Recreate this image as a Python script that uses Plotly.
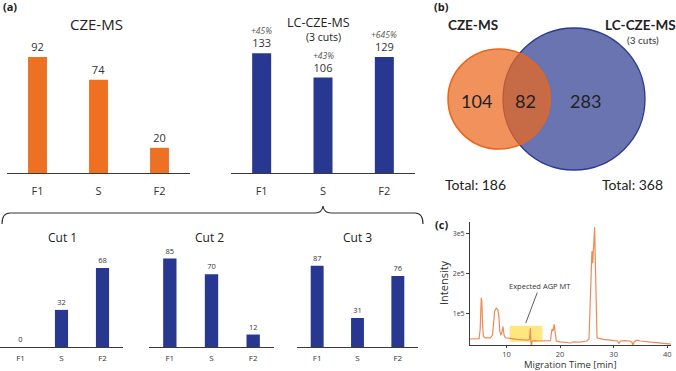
import plotly.graph_objects as go

W, H = 676, 371
FONT = "Open Sans"
VFONT = "Lato"

# ---------------- data ----------------
categories = ["F1", "S", "F2"]
cze_ms = [92, 74, 20]
lc_cze_ms = [133, 106, 129]
lc_increase = ["+45%", "+43%", "+645%"]
cut_titles = ["Cut 1", "Cut 2", "Cut 3"]
cut1 = [0, 32, 68]
cut2 = [85, 70, 12]
cut3 = [87, 31, 76]

venn_labels = ["CZE-MS", "LC-CZE-MS"]
venn_only_cze = 104
venn_shared = 82
venn_only_lc = 283
venn_totals = [186, 368]

mig_time = [3.2, 4.9, 5.1, 5.3, 5.4, 5.55, 5.7, 6.0, 7.0, 7.4, 7.6, 7.8, 8.1, 8.4, 8.6,
            8.75, 8.95, 9.1, 9.35, 9.55, 9.8, 10.2, 11, 12, 13, 14, 14.3, 14.45, 14.55,
            14.65, 14.8, 15.2, 16, 17, 18.2, 18.5, 18.7, 18.9, 19.1, 19.3, 20, 21, 22, 22.4,
            23, 24, 25, 25.4, 25.6, 25.8, 25.95, 26.1, 26.3, 26.45, 26.6, 26.75, 26.9, 27.5,
            28, 29, 30, 30.7, 31, 31.3, 32, 33, 33.4, 33.6, 33.8, 34.3, 35, 36, 37, 38, 39,
            40, 40.7]
intensity = [0.35, 0.36, 0.6, 1.38, 1.3, 0.7, 0.42, 0.38, 0.38, 0.45, 0.85, 1.05, 1.12, 1.08, 0.9,
             0.55, 0.45, 0.5, 0.66, 0.45, 0.38, 0.37, 0.35, 0.34, 0.33, 0.32, 0.34, 0.62, 0.3,
             0.17, 0.3, 0.31, 0.3, 0.3, 0.31, 0.6, 0.55, 0.72, 0.45, 0.3, 0.28, 0.27, 0.25, 0.28,
             0.27, 0.28, 0.3, 0.35, 1.2, 2.4, 2.55, 2.25, 2.9, 3.15, 2.2, 0.6, 0.38, 0.36,
             0.34, 0.33, 0.32, 0.3, 0.24, 0.3, 0.31, 0.3, 0.27, 0.2, 0.27, 0.32, 0.3, 0.28, 0.27,
             0.26, 0.25, 0.23, 0.22]
intensity = [v * 1e5 for v in intensity]
y_tickvals = [1e5, 2e5, 3e5]
y_ticktext = ["1e5", "2e5", "3e5"]
x_tickvals = [10, 20, 30, 40]

ORANGE = "#EE7023"
BLUE = "#283891"
DARK = "#3a3a3a"


def fx(px):
    return px / W


def fy(py):
    return 1 - py / H


fig = go.Figure()

# bar panels: (axis suffix, values, colour, x px domain, y px domain, px per unit, bar width, text size, tick size, standoff)
panels = [
    ("", cze_ms, ORANGE, (7, 190), (20, 173), 1.26, 0.31, 11, 11, 8),
    ("2", lc_cze_ms, BLUE, (231, 415), (20, 173), 0.90, 0.31, 11, 11, 8),
    ("3", cut1, BLUE, (0, 123), (245, 347), 1.16, 0.32, 7.5, 8, 3),
    ("4", cut2, BLUE, (149, 274), (245, 347), 1.04, 0.32, 7.5, 8, 3),
    ("5", cut3, BLUE, (297, 418), (245, 347), 0.935, 0.32, 7.5, 8, 3),
]

layout_axes = {}
for suf, vals, col, xd, yd, scale, bw, tsize, ksize, stand in panels:
    fig.add_trace(go.Bar(
        x=categories, y=vals, marker=dict(color=col, line=dict(width=0)),
        width=bw, text=[str(v) for v in vals], textposition="outside",
        textfont=dict(size=tsize, color="#333333", family=FONT), cliponaxis=False,
        xaxis="x" + suf, yaxis="y" + suf, showlegend=False, hoverinfo="skip"))
    layout_axes["xaxis" + suf] = dict(
        domain=[fx(xd[0]), fx(xd[1])], anchor="y" + suf, type="category",
        range=[-0.5, 2.5], showline=True, linecolor=DARK, linewidth=1,
        showgrid=False, zeroline=False, ticks="", ticklabelstandoff=stand,
        tickfont=dict(size=ksize, color="#333333", family=FONT), fixedrange=True)
    layout_axes["yaxis" + suf] = dict(
        domain=[fy(yd[1]), fy(yd[0])], anchor="x" + suf,
        range=[0, (yd[1] - yd[0]) / scale], visible=False, fixedrange=True)

# electropherogram
fig.add_trace(go.Scatter(
    x=mig_time, y=intensity, mode="lines", line=dict(color="#EF8A55", width=1.2),
    xaxis="x6", yaxis="y6", showlegend=False, hoverinfo="skip"))
layout_axes["xaxis6"] = dict(
    domain=[fx(470), fx(671)], anchor="y6", range=[3.2, 40.7],
    tickvals=x_tickvals, ticks="outside", ticklen=1.5, tickcolor=DARK,
    showline=True, linecolor=DARK, linewidth=1, showgrid=False, zeroline=False,
    tickfont=dict(size=7.5, color="#444444", family=FONT), fixedrange=True)
layout_axes["yaxis6"] = dict(
    domain=[fy(345), fy(222)], anchor="x6", range=[0.2e5, 3.28e5],
    tickvals=y_tickvals, ticktext=y_ticktext, ticks="outside", ticklen=3, tickcolor=DARK,
    showline=True, linecolor=DARK, linewidth=1, showgrid=False, zeroline=False,
    tickfont=dict(size=7, color="#444444", family=FONT), fixedrange=True)

annotations = []


def txt(x, y, s, size, color="#222222", bold=False, xanchor="center", textangle=0, family=FONT):
    if bold:
        s = "<b>" + s + "</b>"
    annotations.append(dict(x=fx(x), y=fy(y), xref="paper", yref="paper", text=s,
                            showarrow=False, xanchor=xanchor, yanchor="middle",
                            font=dict(size=size, color=color, family=family),
                            textangle=textangle))


# panel labels
txt(1, 7, "(a)", 11, bold=True, xanchor="left")
txt(432, 7, "(b)", 11, bold=True, xanchor="left")
txt(433, 224, "(c)", 11, bold=True, xanchor="left")

# bar titles
txt(96, 24, "CZE-MS", 15)
txt(318, 22, "LC-CZE-MS", 12.5)
txt(323, 37, "(3 cuts)", 10.5)
for i, t in enumerate(cut_titles):
    txt([62, 209, 357][i], 237, t, 12)

# percentage increases above LC-CZE-MS bars
for c, v, p in zip(categories, lc_cze_ms, lc_increase):
    annotations.append(dict(x=c, y=v, xref="x2", yref="y2", text="<i>" + p + "</i>",
                            showarrow=False, yanchor="bottom", yshift=15,
                            font=dict(size=8.5, color="#555555", family=FONT)))

# Venn
txt(473, 25, venn_labels[0], 13.5, bold=True, family=VFONT)
txt(640, 25, venn_labels[1], 13.5, bold=True, family=VFONT)
txt(643, 40, "(3 cuts)", 10, color="#333333", family=VFONT)
txt(476, 101, str(venn_only_cze), 18, family=VFONT)
txt(525, 101, str(venn_shared), 18, family=VFONT)
txt(585, 101, str(venn_only_lc), 18, family=VFONT)
txt(475, 185, "Total: " + str(venn_totals[0]), 14, family=VFONT)
txt(632, 185, "Total: " + str(venn_totals[1]), 14, family=VFONT)

# electropherogram texts
txt(443, 283, "Intensity", 11, color="#333333", textangle=-90)
txt(570, 364.5, "Migration Time [min]", 9.5, color="#333333")
annotations.append(dict(x=13.6, y=0.75e5, xref="x6", yref="y6", text="Expected AGP MT",
                        showarrow=True, arrowhead=0, arrowwidth=0.8, arrowcolor="#333333",
                        ax=14, ay=-37, font=dict(size=7.5, color="#333333", family=FONT)))

shapes = []
# Venn circles
shapes.append(dict(type="circle", xref="paper", yref="paper",
                   x0=fx(503), x1=fx(645), y0=fy(170), y1=fy(28),
                   fillcolor="rgba(43,57,144,0.7)", line=dict(color="#2B3990", width=1.3)))
shapes.append(dict(type="circle", xref="paper", yref="paper",
                   x0=fx(448), x1=fx(550), y0=fy(149), y1=fy(49),
                   fillcolor="rgba(236,104,30,0.72)", line=dict(color="#E8651A", width=1.5)))

# brace
pts = [("M", (2, 224)), ("Q", (2, 213), (10, 213)), ("L", (315, 213)),
       ("Q", (322, 213), (323, 206)), ("Q", (324, 213), (331, 213)), ("L", (415, 213)),
       ("Q", (423, 213), (423, 224))]
path = ""
for item in pts:
    path += item[0] + " " + " ".join(f"{fx(p[0]):.5f},{fy(p[1]):.5f}" for p in item[1:]) + " "
shapes.append(dict(type="path", xref="paper", yref="paper", path=path,
                   line=dict(color="#333333", width=1.2)))

# highlight
shapes.append(dict(type="rect", xref="x6", yref="y6", x0=10.6, x1=16.7, y0=0.28e5, y1=0.68e5,
                   fillcolor="rgba(255,214,40,0.6)", line=dict(width=0), layer="below"))

fig.update_layout(width=W, height=H, margin=dict(l=0, r=0, t=0, b=0),
                  paper_bgcolor="white", plot_bgcolor="rgba(0,0,0,0)",
                  annotations=annotations, shapes=shapes,
                  font=dict(family=FONT), **layout_axes)

fig.write_html("out.html", config={"displayModeBar": False, "staticPlot": True},
               post_script="document.body.style.margin='0';document.body.style.padding='0';")
